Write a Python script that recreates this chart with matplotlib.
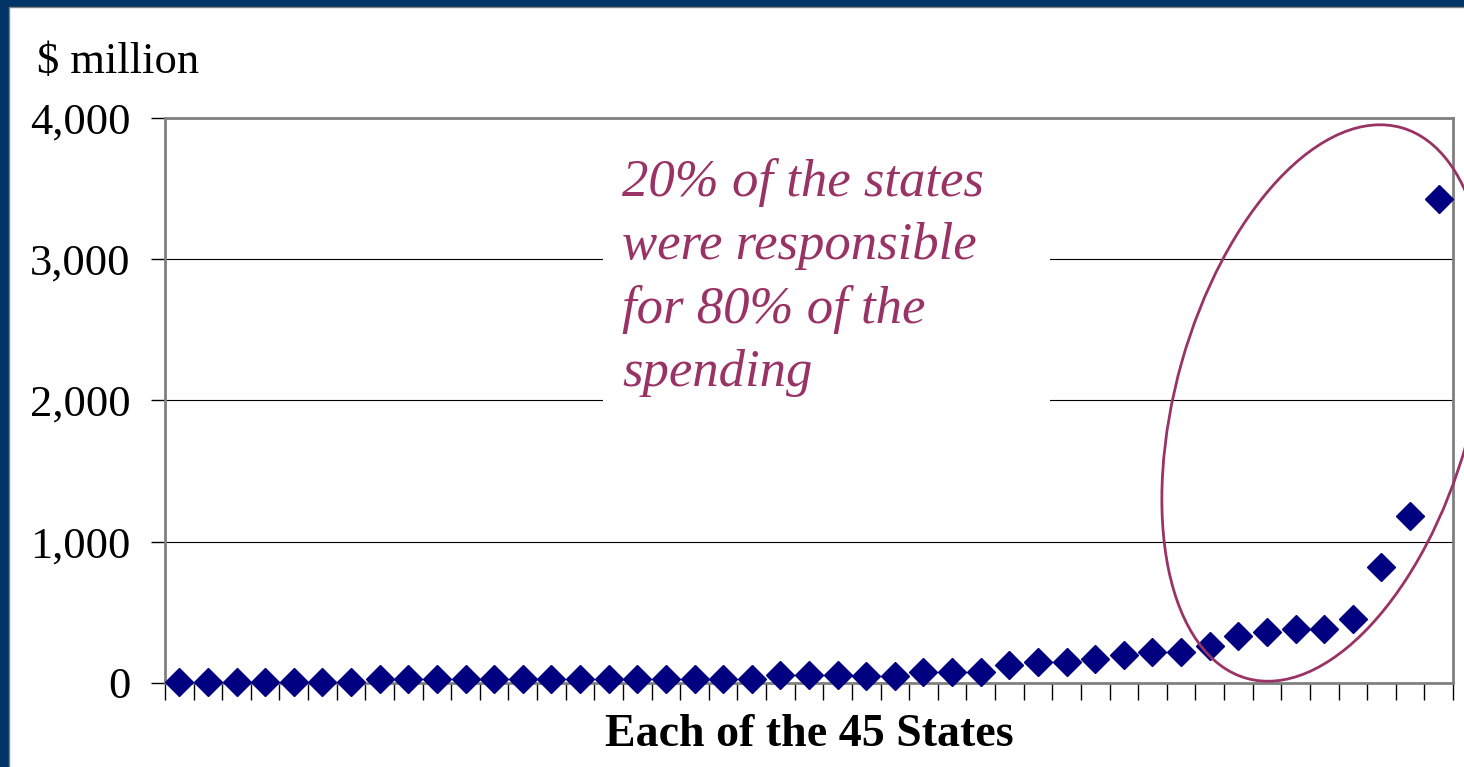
import matplotlib
matplotlib.use('Agg')
import matplotlib.pyplot as plt
from matplotlib.patches import Ellipse, Rectangle
from matplotlib.ticker import FuncFormatter
import numpy as np

# spending per state, sorted ascending ($ million)
spending = [8, 8, 8, 8, 8, 8, 8,
            30, 30, 30, 30, 30, 30, 30, 30, 30, 30, 30, 30, 30, 30,
            57, 57, 57, 52, 52,
            80, 80, 80,
            127, 150, 150, 172, 195, 218, 218, 264, 335, 358, 382, 382,
            453, 823, 1182, 3427]
states = np.arange(1, len(spending) + 1)
y_ticks = [0, 1000, 2000, 3000, 4000]

note = "20% of the states\nwere responsible\nfor 80% of the\nspending"

navy = '#003366'
marker_col = '#000080'
accent = '#993366'
plt.rcParams['font.family'] = ['Liberation Serif', 'DejaVu Serif']

fig = plt.figure(figsize=(14.64, 7.67), dpi=100)
fig.patch.set_facecolor(navy)
fig.patches.append(Rectangle((9 / 1464, -0.05), 1.1, (767 - 7) / 767 + 0.05,
                             transform=fig.transFigure, facecolor='white',
                             edgecolor='#808080', lw=1, zorder=-10))

ax = fig.add_axes([165 / 1464, 84 / 767, 1288 / 1464, 565 / 767])
ax.set_facecolor('white')

ax.plot(states, spending, linestyle='none', marker='D', markersize=14,
        color=marker_col, clip_on=False, zorder=5)

ax.set_xlim(0.5, len(spending) + 0.5)
ax.set_ylim(0, 4000)
ax.set_yticks(y_ticks)
ax.yaxis.set_major_formatter(FuncFormatter(lambda v, p: f'{int(v):,}'))
ax.set_xticks(np.arange(0.5, len(spending) + 1, 1))
ax.set_xticklabels([])
ax.tick_params(axis='y', direction='out', length=10, width=1, color='black',
               labelsize=32, pad=15)
ax.tick_params(axis='x', direction='out', length=12.5, width=1, color='black')
ax.yaxis.grid(True, color='black', lw=0.8)
ax.set_axisbelow(True)
for s in ax.spines.values():
    s.set_color('#808080')
    s.set_linewidth(2)

ax.set_xlabel('Each of the 45 States', fontsize=33, fontweight='bold', labelpad=6)
fig.text(37 / 1464, 1 - 73 / 767, '$ million', fontsize=32, va='baseline', ha='left')

# white box behind the note
ax.add_patch(Rectangle((0.340, 0.483), 0.347, 0.46, transform=ax.transAxes,
                       facecolor='white', edgecolor='none', zorder=2))
ax.text(0.355, 0.929, note, transform=ax.transAxes, fontsize=38, style='italic',
        color=accent, va='top', ha='left', linespacing=1.4, zorder=3)

ell = Ellipse((13.24, 3.64), 2.96, 5.72, angle=-15.7, transform=fig.dpi_scale_trans,
              facecolor='none', edgecolor=accent, lw=2, clip_on=False, zorder=6)
ax.add_artist(ell)

fig.savefig('out.png', dpi=100, facecolor=fig.get_facecolor())
